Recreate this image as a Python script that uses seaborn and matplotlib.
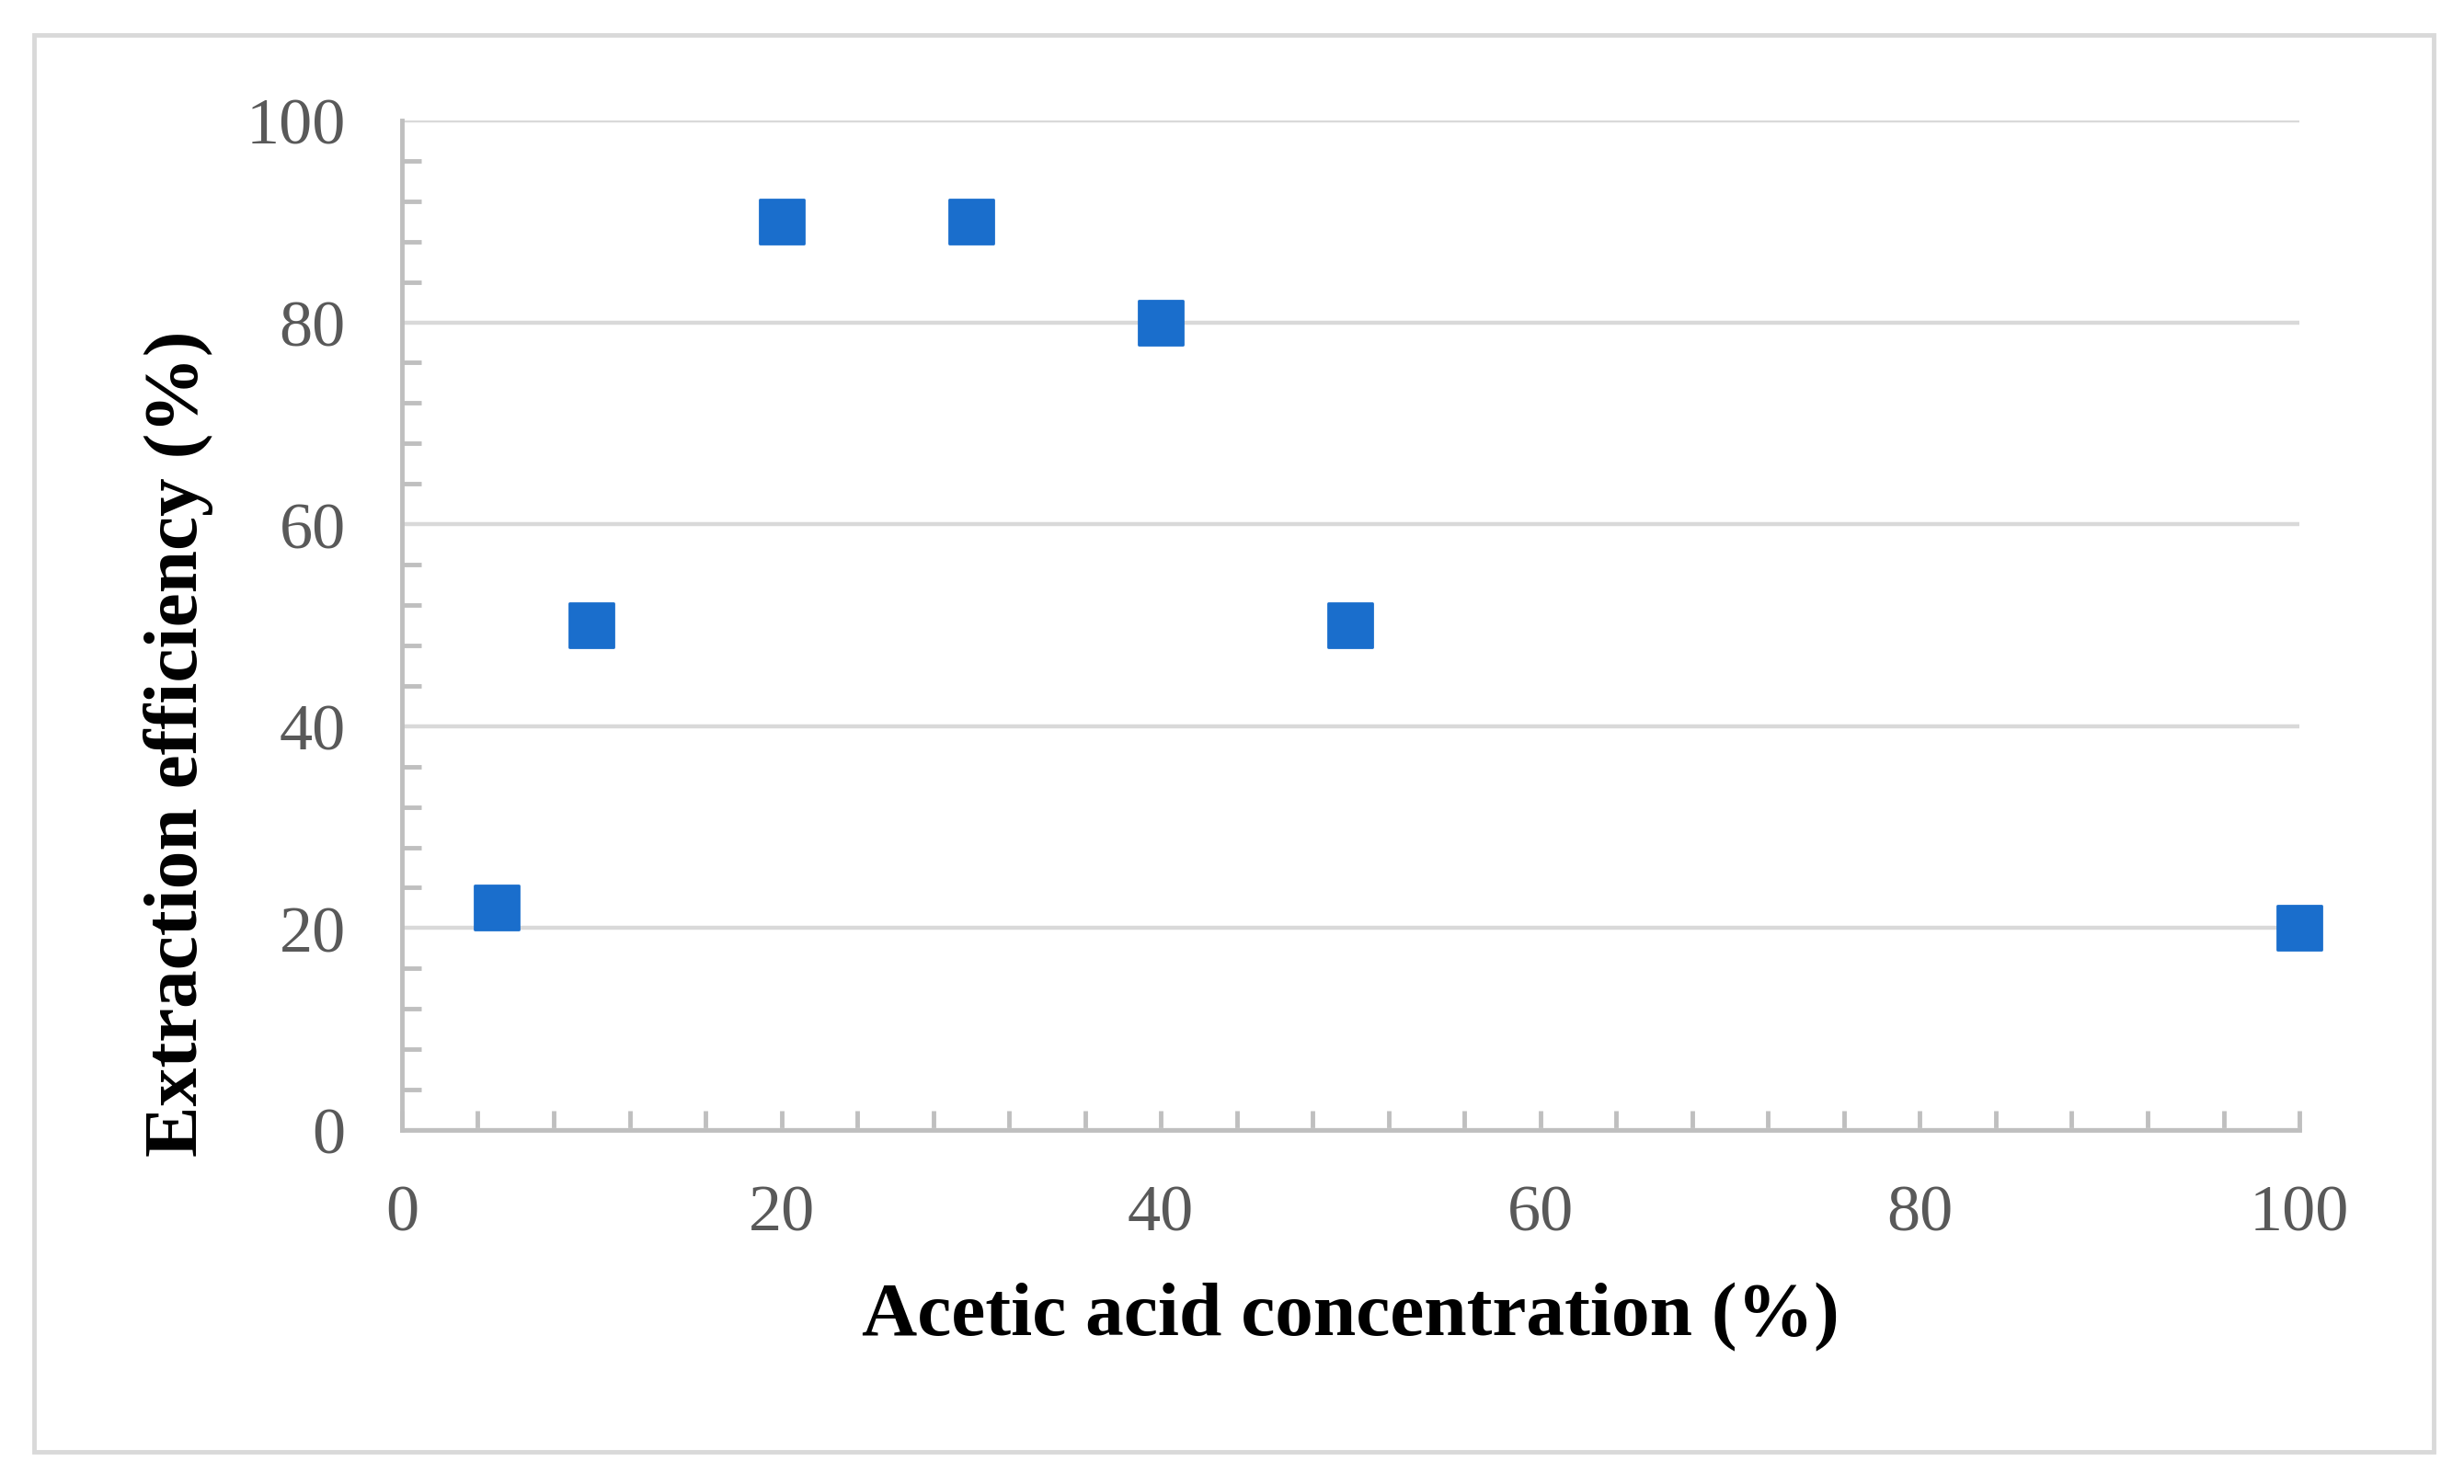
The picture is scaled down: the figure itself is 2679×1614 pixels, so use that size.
import numpy as np
import pandas as pd
import seaborn as sns
import matplotlib.pyplot as plt
from matplotlib.patches import Rectangle
from matplotlib.ticker import MultipleLocator

# values
concentration = [5, 10, 20, 30, 40, 50, 100]
efficiency = [22, 50, 90, 90, 80, 50, 20]
x_ticks = [0, 20, 40, 60, 80, 100]
y_ticks = [0, 20, 40, 60, 80, 100]

df = pd.DataFrame({"Acetic acid concentration (%)": concentration,
                   "Extraction efficiency (%)": efficiency})

sns.set_style("white")
plt.rcParams["font.family"] = ["Liberation Serif", "DejaVu Serif"]

fig = plt.figure(figsize=(26.79, 16.15), dpi=100)
ax = fig.add_axes([0.1631, 0.2384, 0.7701, 0.6799])

# outer frame around the whole chart
fig.patches.append(Rectangle((37 / 2679, 1 - 1580 / 1615), (2646 - 37) / 2679, (1580 - 39) / 1615,
                             transform=fig.transFigure, fill=False, edgecolor="#d9d9d9",
                             linewidth=3.5, zorder=0))

ax.grid(axis="y", color="#d9d9d9", linewidth=3.2, zorder=0)
ax.set_axisbelow(True)

sns.scatterplot(data=df, x="Acetic acid concentration (%)", y="Extraction efficiency (%)",
                marker="s", s=1150, color="#1A6ECC", edgecolor="#1A6ECC", linewidth=2,
                ax=ax, zorder=5, clip_on=False)
for c in ax.collections:
    c.set_joinstyle("round")

ax.set_xlim(0, 100)
ax.set_ylim(0, 100)
ax.set_xticks(x_ticks)
ax.set_yticks(y_ticks)
ax.xaxis.set_minor_locator(MultipleLocator(4))
ax.yaxis.set_minor_locator(MultipleLocator(4))

for s in ["top", "right"]:
    ax.spines[s].set_visible(False)
for s in ["left", "bottom"]:
    ax.spines[s].set_color("#bfbfbf")
    ax.spines[s].set_linewidth(3.5)

ax.tick_params(which="both", direction="in", color="#bfbfbf", width=3.5, length=15,
               labelsize=52, labelcolor="#595959")
ax.tick_params(axis="y", which="major", length=0, pad=44)
ax.tick_params(axis="x", which="major", pad=42)
ax.tick_params(which="major", left=True, bottom=True)
ax.tick_params(which="minor", left=True, bottom=True)

ax.set_xlabel("Acetic acid concentration (%)", fontsize=60, fontweight="bold", color="black", labelpad=30)
ax.set_ylabel("Extraction efficiency (%)", fontsize=60, fontweight="bold", color="black")
ax.yaxis.set_label_coords(-0.118, 0.384)
ax.yaxis.label.set_verticalalignment("center")

fig.savefig("out.png", dpi=100, facecolor="white")
